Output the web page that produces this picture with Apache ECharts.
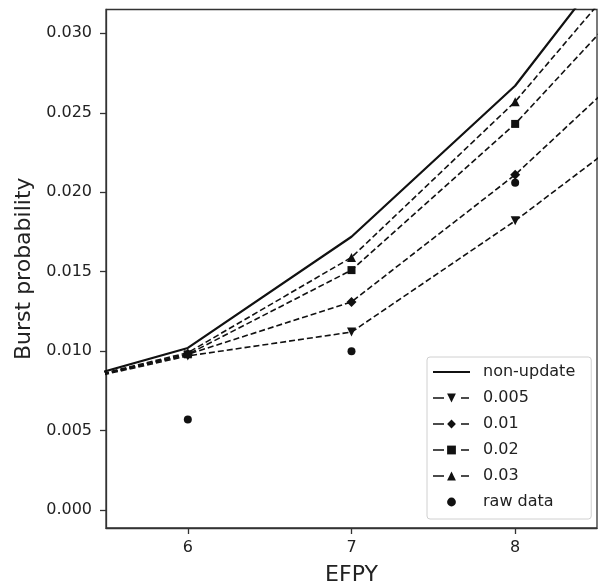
<!DOCTYPE html>
<html>
<head>
<meta charset="utf-8">
<script src="https://cdn.jsdelivr.net/npm/echarts@6/dist/echarts.min.js"></script>
<style>
html,body{margin:0;padding:0;background:#fff;}
#c{width:598px;height:585px;}
</style>
</head>
<body>
<div id="c"></div>
<script>
// ---- data ----
const efpy = [5, 6, 7, 8, 9];
const nonUpdate = [0.0073, 0.0102, 0.0172, 0.0267, 0.0400];
const r005 = [0.0074, 0.0097, 0.0112, 0.0182, 0.0260];
const r01  = [0.0074, 0.0098, 0.0131, 0.0211, 0.0307];
const r02  = [0.0074, 0.0098, 0.0151, 0.0243, 0.0354];
const r03  = [0.0074, 0.0099, 0.0159, 0.0257, 0.0378];
const rawX = [6, 7, 8];
const rawY = [0.0057, 0.0100, 0.0206];
const xTicks = [6, 7, 8];
const yTicks = [0, 0.005, 0.010, 0.015, 0.020, 0.025, 0.030];
const seriesNames = ['non-update', '0.005', '0.01', '0.02', '0.03', 'raw data'];

const pair = (xs, ys) => xs.map((x, i) => [x, ys[i]]);
const ink = '#111';
const font = 'DejaVu Sans';

function dashed(name, ys, symbol, size, rotate) {
  return {
    name: name, type: 'line', data: pair(efpy, ys), clip: true,
    symbol: symbol, symbolSize: size, symbolRotate: rotate || 0,
    showSymbol: true, showAllSymbol: true,
    lineStyle: {color: ink, width: 1.6, type: [6, 3]},
    itemStyle: {color: ink},
    z: 3
  };
}

const legendData = seriesNames.map(n => {
  if (n === 'non-update') return {name: n, itemStyle: {color: 'rgba(0,0,0,0)', borderWidth: 0}, lineStyle: {type: 'solid', width: 2}};
  return {name: n};
});

const chart = echarts.init(document.getElementById('c'), null, {renderer: 'canvas'});
chart.setOption({
  animation: false,
  backgroundColor: '#fff',
  textStyle: {fontFamily: font},
  grid: {left: 106, right: 1, top: 9.5, bottom: 57, show: true, borderColor: '#333', borderWidth: 1.3,
         backgroundColor: 'transparent', containLabel: false, outerBoundsMode: 'none'},
  xAxis: {
    type: 'value', min: 5.5, max: 8.5,
    name: 'EFPY', nameLocation: 'middle', nameGap: 36,
    nameTextStyle: {fontSize: 22, color: '#222', fontFamily: font},
    axisLine: {show: true, onZero: false, lineStyle: {color: '#333', width: 1.3}},
    axisTick: {show: true, length: 6, lineStyle: {color: '#333', width: 1.3}, customValues: xTicks},
    axisLabel: {fontSize: 16, color: '#222', margin: 12, fontFamily: font, customValues: xTicks,
                formatter: v => String(v)},
    splitLine: {show: false}
  },
  yAxis: {
    type: 'value', min: -0.00113, max: 0.0315,
    name: 'Burst probability', nameLocation: 'middle', nameGap: 67,
    nameTextStyle: {fontSize: 22, color: '#222', fontFamily: font},
    axisLine: {show: true, onZero: false, lineStyle: {color: '#333', width: 1.3}},
    axisTick: {show: true, length: 6, lineStyle: {color: '#333', width: 1.3}, customValues: yTicks},
    axisLabel: {fontSize: 16, color: '#222', margin: 14, fontFamily: font, customValues: yTicks,
                formatter: v => v.toFixed(3)},
    splitLine: {show: false}
  },
  legend: {
    data: legendData,
    orient: 'vertical', left: 427, top: 357,
    padding: [7, 16, 9, 5],
    itemWidth: 37, itemHeight: 11, itemGap: 10,
    lineStyle: {type: [11, 17, 8, 10], width: 1.6},
    backgroundColor: 'rgba(255,255,255,0.85)',
    borderColor: '#d0d0d0', borderWidth: 1, borderRadius: 3,
    textStyle: {fontSize: 16, color: '#222', fontFamily: font, lineHeight: 16, padding: [0, 0, 0, 8]}
  },
  series: [
    {
      name: 'non-update', type: 'line', data: pair(efpy, nonUpdate), clip: true,
      symbol: 'none', showSymbol: false,
      lineStyle: {color: ink, width: 2.2}, itemStyle: {color: ink}, z: 4
    },
    dashed('0.005', r005, 'triangle', 9, 180),
    dashed('0.01', r01, 'diamond', 10),
    dashed('0.02', r02, 'rect', 8),
    dashed('0.03', r03, 'triangle', 9),
    {
      name: 'raw data', type: 'line', data: pair(rawX, rawY),
      symbol: 'circle', symbolSize: 8, showSymbol: true, showAllSymbol: true,
      lineStyle: {opacity: 0, width: 0}, itemStyle: {color: ink, opacity: 1}, z: 5
    }
  ]
});
</script>
</body>
</html>
